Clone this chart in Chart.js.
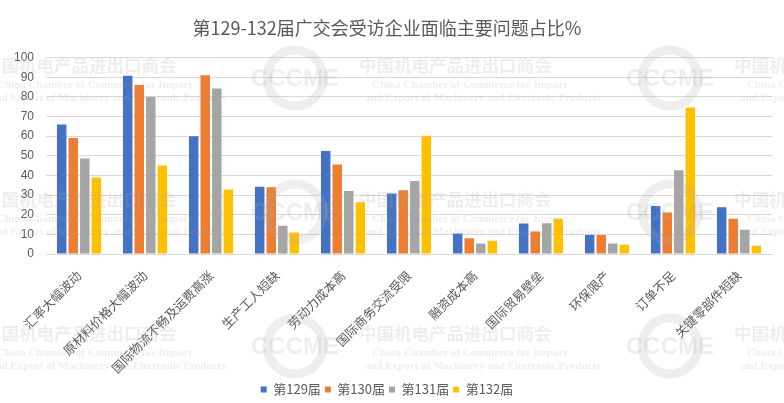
<!DOCTYPE html>
<html>
<head>
<meta charset="utf-8">
<script src="https://cdn.jsdelivr.net/npm/chart.js@4"></script>
<style>
  html, body { margin: 0; padding: 0; background: #fff; }
  #wrap { width: 784px; height: 403px; }
</style>
</head>
<body>
<div id="wrap"><canvas id="chart"></canvas></div>
<script>
const categories = ['汇率大幅波动', '原材料价格大幅波动', '国际物流不畅及运费高涨', '生产工人短缺', '劳动力成本高',
  '国际商务交流受限', '融资成本高', '国际贸易壁垒', '环保限产', '订单不足', '关键零部件短缺'];
const s129 = [66, 90.8, 60, 34.3, 52.4, 30.8, 10.5, 15.5, 9.7, 24.5, 23.8];
const s130 = [59, 86, 91, 34, 45.6, 32.5, 8, 11.4, 9.7, 21.1, 18];
const s131 = [48.6, 80, 84.3, 14.4, 32.1, 37.2, 5.3, 15.6, 5.4, 42.7, 12.4];
const s132 = [39, 45, 32.8, 10.9, 26.3, 60.2, 6.8, 18, 4.7, 74.6, 4.2];
const seriesNames = ['第129届', '第130届', '第131届', '第132届'];
const colors = ['#4472C4', '#ED7D31', '#A5A5A5', '#FFC000'];

const cjk = '"Noto Sans CJK SC", "Noto Sans", sans-serif';
const textColor = '#595959';

// faint repeated watermark drawn over the chart, like the source image
const watermark = {
  id: 'watermark',
  afterDraw(chart) {
    const c = chart.ctx;
    c.save();
    c.fillStyle = 'rgba(170,170,170,0.2)';
    c.strokeStyle = 'rgba(170,170,170,0.2)';
    for (let row = 0; row < 3; row++) {
      const y = 65 + row * 134;
      for (let col = -1; col < 3; col++) {
        const x = -16 + col * 375;
        c.textAlign = 'left';
        c.textBaseline = 'middle';
        c.font = 'bold 17.5px ' + cjk;
        c.fillText('中国机电产品进出口商会', x, y);
        c.font = 'bold 11px "Liberation Serif", serif';
        c.fillText('China Chamber of Commerce for Import', x + 13, y + 20);
        c.fillText('and Export of Machinery and Electronic Products', x + 6, y + 33);
        // gear logo
        const lx = x + 311, ly = y + 13;
        c.lineWidth = 9;
        c.beginPath();
        c.arc(lx, ly, 28, 0, Math.PI * 2);
        c.stroke();
        c.textAlign = 'center';
        c.font = 'bold 24px "Liberation Sans", sans-serif';
        c.fillText('CCCME', lx, ly + 1);
      }
    }
    c.restore();
  }
};

const ctx = document.getElementById('chart').getContext('2d');
new Chart(ctx, {
  type: 'bar',
  data: {
    labels: categories,
    datasets: [s129, s130, s131, s132].map((d, i) => ({
      label: seriesNames[i],
      data: d,
      backgroundColor: colors[i],
      categoryPercentage: 0.7,
      barPercentage: 0.82
    }))
  },
  plugins: [watermark],
  options: {
    responsive: true,
    maintainAspectRatio: false,
    animation: false,
    layout: { padding: { left: 2, right: 12, top: 9, bottom: -3 } },
    plugins: {
      title: {
        display: true,
        text: '第129-132届广交会受访企业面临主要问题占比%',
        color: textColor,
        font: { family: cjk, size: 18, weight: 'normal' },
        padding: { top: 8, bottom: 19 }
      },
      legend: {
        position: 'bottom',
        labels: {
          color: textColor,
          font: { family: cjk, size: 13 },
          boxWidth: 6,
          boxHeight: 6,
          padding: 4
        }
      },
      tooltip: { enabled: false }
    },
    scales: {
      x: {
        grid: { display: false },
        border: { color: '#D9D9D9' },
        ticks: {
          color: textColor,
          font: { family: cjk, size: 12.5 },
          maxRotation: 45,
          minRotation: 45,
          autoSkip: false,
          padding: 6
        },
        afterFit(scale) {
          scale.paddingLeft = 0;
          scale.paddingRight = 0;
          scale.height = 125;
        }
      },
      y: {
        min: 0,
        max: 100,
        grid: { color: '#D9D9D9', drawTicks: false },
        border: { display: false },
        ticks: {
          stepSize: 10,
          color: textColor,
          font: { family: '"Liberation Sans", Arial, sans-serif', size: 12 },
          padding: 12
        }
      }
    }
  }
});
</script>
</body>
</html>
